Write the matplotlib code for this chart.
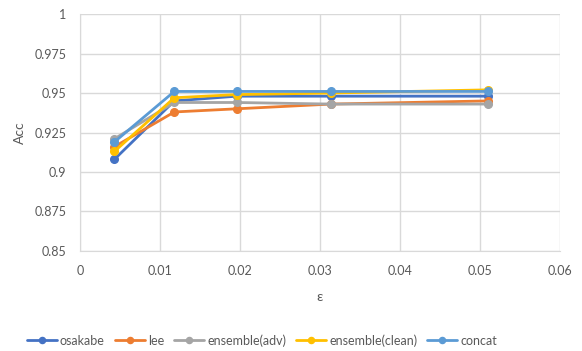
import matplotlib
matplotlib.use("Agg")
import matplotlib.pyplot as plt

plt.rcParams['font.family'] = ['Lato', 'DejaVu Sans']

eps = [0.0043, 0.0118, 0.0196, 0.0314, 0.0510]
series_names = ["osakabe", "lee", "ensemble(adv)", "ensemble(clean)", "concat"]
osakabe = [0.908, 0.945, 0.948, 0.948, 0.948]
lee = [0.916, 0.938, 0.940, 0.943, 0.945]
ensemble_adv = [0.921, 0.944, 0.944, 0.943, 0.943]
ensemble_clean = [0.913, 0.947, 0.949, 0.950, 0.952]
concat = [0.919, 0.951, 0.951, 0.951, 0.951]
colors = ["#4472C4", "#ED7D31", "#A5A5A5", "#FFC000", "#5B9BD5"]

x_ticks = [0, 0.01, 0.02, 0.03, 0.04, 0.05, 0.06]
y_ticks = [0.85, 0.875, 0.9, 0.925, 0.95, 0.975, 1]

text_color = "#595959"
grid_color = "#D9D9D9"

fig = plt.figure(figsize=(5.82, 3.51), dpi=100)
ax = fig.add_axes([0.1375, 0.285, 0.824, 0.675])

for name, vals, c in zip(series_names,
                         [osakabe, lee, ensemble_adv, ensemble_clean, concat],
                         colors):
    ax.plot(eps, vals, color=c, lw=2.0, marker='o', ms=5.5, label=name,
            solid_capstyle='round')

ax.set_xlim(0, 0.06)
ax.set_ylim(0.85, 1)
ax.set_xticks(x_ticks)
ax.set_xticklabels([f"{v:g}" for v in x_ticks])
ax.set_yticks(y_ticks)
ax.set_yticklabels([f"{v:g}" for v in y_ticks])
ax.grid(True, color=grid_color, lw=1)
ax.set_axisbelow(True)
for s in ["top", "right"]:
    ax.spines[s].set_visible(False)
for s in ["left", "bottom"]:
    ax.spines[s].set_color(grid_color)
ax.tick_params(length=0, labelsize=9, colors=text_color, pad=10)

ax.set_xlabel("ε", color=text_color, fontsize=10, labelpad=10)
ax.set_ylabel("Acc", color=text_color, fontsize=10, labelpad=6)

leg = fig.legend(loc="center", bbox_to_anchor=(0.45, 0.03), ncol=5, frameon=False,
                 fontsize=9, handlelength=2.4, columnspacing=0.8, handletextpad=0.25,
                 markerscale=0.8)
for t in leg.get_texts():
    t.set_color(text_color)

fig.savefig("out.png", dpi=100)
